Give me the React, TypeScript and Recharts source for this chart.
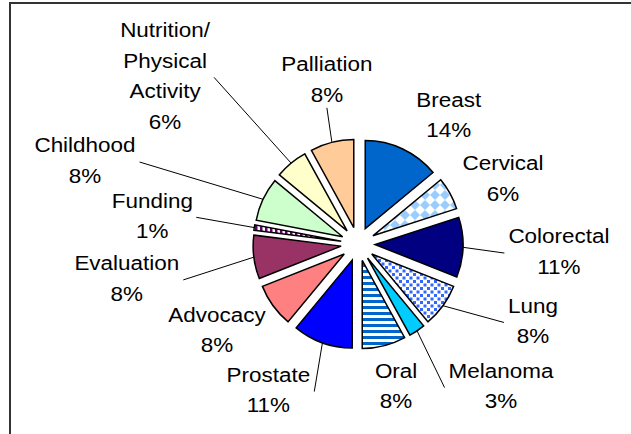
import React from 'react';
import { PieChart, Pie, Cell, Sector } from 'recharts';

const categories = [
  'Breast',
  'Cervical',
  'Colorectal',
  'Lung',
  'Melanoma',
  'Oral',
  'Prostate',
  'Advocacy',
  'Evaluation',
  'Funding',
  'Childhood',
  'Nutrition/\nPhysical\nActivity',
  'Palliation',
];
const shares = [14, 6, 11, 8, 3, 8, 11, 8, 8, 1, 8, 6, 8];

const fills = [
  '#0066CC',
  'url(#pCervical)',
  '#000080',
  'url(#pLung)',
  '#00CCFF',
  'url(#pOral)',
  '#0000FF',
  '#FF8080',
  '#993366',
  'url(#pFunding)',
  '#CCFFCC',
  '#FFFFCC',
  '#FFCC99',
];

// where each label block sits, relative to its slice's outer point (text centre, first baseline)
const labelOffsets: [number, number][] = [
  [46, -42],
  [53, -23],
  [96, -4],
  [90, 7],
  [84, 47],
  [12, 32],
  [-54, 39],
  [-56, 16],
  [-127, 13],
  [-102, -20],
  [-178, -47],
  [-126, -126],
  [-5, -71],
];

const data = categories.map((name, i) => ({ name, value: shares[i] }));

const RAD = Math.PI / 180;
const EXPLODE = 17;
const FONT = 21;
const STRETCH = 1.07;
const LINE = 30.5;
const PAD = 4;

const charW: Record<string, number> = {
  i: 0.222, l: 0.222, j: 0.222, t: 0.278, f: 0.278, '/': 0.278, r: 0.333,
  m: 0.833, M: 0.833, w: 0.722, C: 0.722, D: 0.722, N: 0.722, H: 0.722,
  E: 0.667, P: 0.667, B: 0.667, A: 0.667, v: 0.5, c: 0.5, y: 0.5, k: 0.5, s: 0.5,
  '%': 0.889, O: 0.778,
};
const textWidth = (s: string) =>
  s.split('').reduce((w, ch) => w + (charW[ch] ?? 0.556) * FONT * STRETCH, 0);

const ExplodedSector = (props: any) => {
  const { cx, cy, outerRadius, startAngle, endAngle, fill } = props;
  const mid = ((startAngle + endAngle) / 2) * RAD;
  return (
    <Sector
      cx={cx + EXPLODE * Math.cos(mid)}
      cy={cy - EXPLODE * Math.sin(mid)}
      innerRadius={0}
      outerRadius={outerRadius}
      startAngle={startAngle}
      endAngle={endAngle}
      fill={fill}
      stroke="#000"
      strokeWidth={1.5}
    />
  );
};

const renderLabel = (props: any) => {
  const { cx, cy, midAngle, outerRadius, index } = props;
  const a = midAngle * RAD;
  const R = outerRadius + EXPLODE;
  const px = cx + R * Math.cos(a);
  const py = cy - R * Math.sin(a);
  const [dx, dy] = labelOffsets[index];
  const tx = px + dx;
  const ty = py + dy;
  const lines = [...categories[index].split('\n'), `${shares[index]}%`];
  const w = Math.max(...lines.map(textWidth)) + 2 * PAD;
  const x0 = tx - w / 2;
  const x1 = tx + w / 2;
  const top = ty - 17;
  const bottom = ty + (lines.length - 1) * LINE + 6;
  const midY = (top + bottom) / 2;

  // leader line only when the label is pulled away from its slice
  const clx = Math.min(Math.max(px, x0), x1);
  const cly = Math.min(Math.max(py, top), bottom);
  const far = Math.hypot(px - clx, py - cly) > 20;
  const anchors: [number, number][] = [
    [x0, midY],
    [x1, midY],
    [tx, top],
    [tx, bottom],
  ];
  let best = anchors[0];
  anchors.forEach((p) => {
    if (Math.hypot(p[0] - px, p[1] - py) < Math.hypot(best[0] - px, best[1] - py)) best = p;
  });

  return (
    <g key={`lab-${index}`}>
      {far && (
        <polyline
          points={`${px},${py} ${best[0]},${best[1]}`}
          fill="none"
          stroke="#000"
          strokeWidth={1}
        />
      )}
      <text
        x={tx}
        textAnchor="middle"
        fontSize={FONT}
        fontFamily="'Liberation Sans', Arial, sans-serif"
        fill="#000"
        transform={`translate(${tx},0) scale(${STRETCH},1) translate(${-tx},0)`}
      >
        {lines.map((ln, i) => (
          <tspan key={i} x={tx} y={ty + i * LINE}>
            {ln}
          </tspan>
        ))}
      </text>
    </g>
  );
};

export default function App() {
  return (
    <div style={{ position: 'absolute', left: 0, top: 0, width: 631, height: 434, background: '#fff' }}>
      <div
        style={{
          position: 'absolute',
          left: 9,
          top: 2,
          right: 0,
          bottom: 0,
          borderTop: '2px solid #333',
          borderLeft: '2px solid #333',
        }}
      />
      <div style={{ position: 'absolute', left: 0, top: 0 }}>
        <PieChart width={631} height={434} margin={{ top: 0, right: 0, bottom: 0, left: 0 }}>
          <defs>
            <pattern id="pCervical" width="10" height="10" patternUnits="userSpaceOnUse">
              <rect width="10" height="10" fill="#fff" />
              <polygon points="5,0 10,5 5,10 0,5" fill="#99CCFF" />
            </pattern>
            <pattern id="pLung" width="7" height="7" patternUnits="userSpaceOnUse">
              <rect width="7" height="7" fill="#fff" />
              <rect x="0" y="0" width="3" height="3" fill="#3366FF" />
              <rect x="3.5" y="3.5" width="3" height="3" fill="#3366FF" />
            </pattern>
            <pattern id="pOral" width="6" height="6" patternUnits="userSpaceOnUse">
              <rect width="6" height="6" fill="#fff" />
              <rect width="6" height="3" fill="#0066CC" />
            </pattern>
            <pattern id="pFunding" width="5" height="5" patternUnits="userSpaceOnUse">
              <rect width="5" height="5" fill="#fff" />
              <rect width="2.5" height="5" fill="#660066" />
            </pattern>
          </defs>
          <Pie
            data={data}
            dataKey="value"
            nameKey="name"
            cx={358}
            cy={244}
            innerRadius={0}
            outerRadius={88}
            startAngle={90}
            endAngle={-270}
            stroke="#000"
            strokeWidth={1.5}
            shape={ExplodedSector}
            activeShape={ExplodedSector}
            inactiveShape={ExplodedSector}
            label={renderLabel}
            labelLine={false}
            isAnimationActive={false}
          >
            {data.map((d, i) => (
              <Cell key={d.name} fill={fills[i]} />
            ))}
          </Pie>
        </PieChart>
      </div>
    </div>
  );
}
